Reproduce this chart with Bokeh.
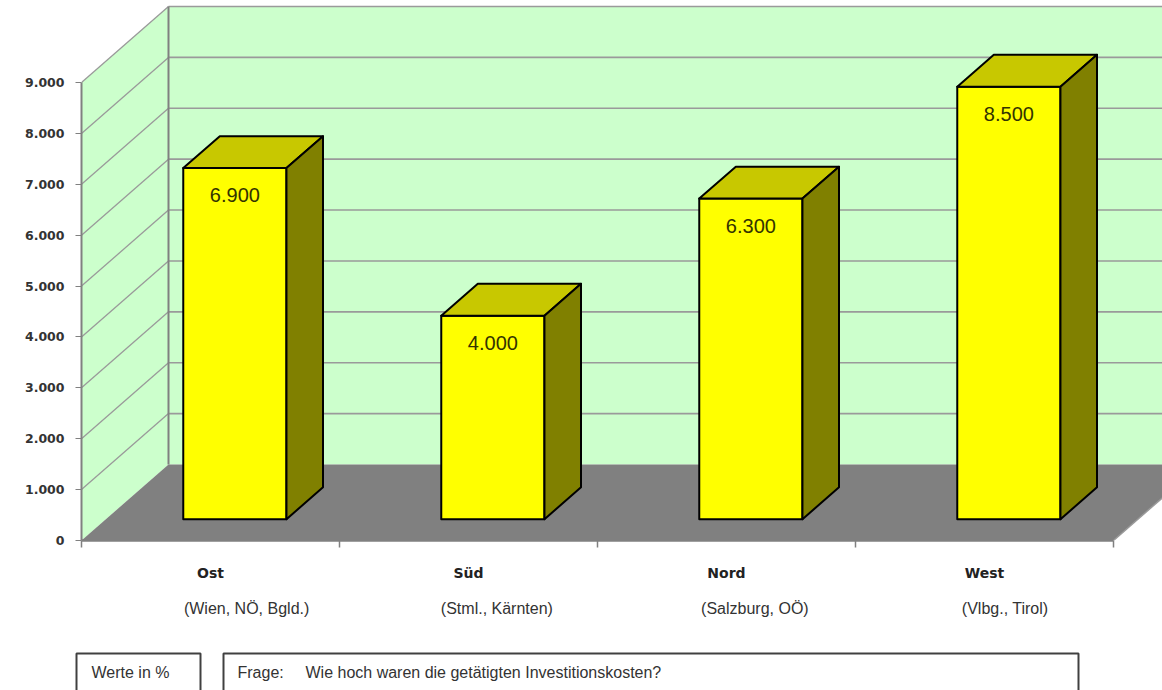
from bokeh.plotting import figure
from bokeh.layouts import column, row
from bokeh.models import FixedTicker, LinearAxis, Range1d
from bokeh.embed import file_html
from bokeh.resources import INLINE
from bokeh.core.properties import value

# ---------------- data ----------------
categories = ["Ost", "Süd", "Nord", "West"]
regions = ["(Wien, NÖ, Bgld.)", "(Stml., Kärnten)", "(Salzburg, OÖ)", "(Vlbg., Tirol)"]
values = [6900, 4000, 6300, 8500]
value_labels = ["6.900", "4.000", "6.300", "8.500"]
y_ticks = [0, 1000, 2000, 3000, 4000, 5000, 6000, 7000, 8000, 9000]
y_tick_labels = ["0", "1.000", "2.000", "3.000", "4.000", "5.000",
                 "6.000", "7.000", "8.000", "9.000"]
unit_note = "Werte in %"
question_head = "Frage:"
question_text = "Wie hoch waren die getätigten Investitionskosten?"

# ---------------- layout constants ----------------
W = 1162
H_MAIN = 650
H_NOTE = 40
PX_LEFT = 81
PX_BOTTOM = 110
PX_PER_CAT = 258.0
PX_PER_UNIT = 458.0 / 9000.0
DEPTH_PX = (87.0, 76.0)
BAR_HALF = 0.2
BAR_D0, BAR_D1 = 0.28, 0.70
SUB_OFFSETS = [0.14, 0.11, 0.11, 0.08]

n = len(categories)
y_max = y_ticks[-1]
x_end = (W - PX_LEFT) / PX_PER_CAT
y_end = (H_MAIN - PX_BOTTOM) / PX_PER_UNIT
DX = DEPTH_PX[0] / PX_PER_CAT
DY = DEPTH_PX[1] / PX_PER_UNIT


def proj(x, v, d):
    return (x + d * DX, v + d * DY)


def poly(pts):
    P = [proj(*q) for q in pts]
    return [a for a, _ in P], [b for _, b in P]


p = figure(width=W, height=H_MAIN, output_backend="svg", toolbar_location=None,
           x_range=Range1d(0, x_end), y_range=Range1d(0, y_end),
           min_border_left=PX_LEFT, min_border_right=0, min_border_top=0,
           min_border_bottom=PX_BOTTOM)
p.outline_line_color = None
p.grid.visible = False
p.background_fill_color = "white"
p.border_fill_color = "white"

WALL = "#CCFFCC"
GRID = "#9a9a9a"
EDGE = "#808080"

# back wall
bx, by = poly([(0, 0, 1), (0, y_max, 1), (n + 0.6, y_max, 1), (n + 0.6, 0, 1)])
p.patch(bx, by, fill_color=WALL, line_color=None)
for v in y_ticks[1:]:
    x0, y0 = proj(0, v, 1)
    x1, y1 = proj(n + 0.6, v, 1)
    p.line([x0, x1], [y0, y1], line_color=GRID, line_width=1.6)

# side wall
sx, sy = poly([(0, 0, 0), (0, y_max, 0), (0, y_max, 1), (0, 0, 1)])
p.patch(sx, sy, fill_color=WALL, line_color=None)
for v in y_ticks[1:]:
    x0, y0 = proj(0, v, 0)
    x1, y1 = proj(0, v, 1)
    p.line([x0, x1], [y0, y1], line_color=GRID, line_width=1.3)

# edges of walls
ex0, ey0 = proj(0, 0, 1)
ex1, ey1 = proj(0, y_max, 1)
p.line([ex0, ex1], [ey0, ey1], line_color=EDGE, line_width=2)

# floor
fx, fy = poly([(0, 0, 0), (n, 0, 0), (n, 0, 1), (0, 0, 1)])
p.patch(fx, fy, fill_color="#808080", line_color=None)
p.line(fx[1:3], fy[1:3], line_color="#9a9a9a", line_width=1.5)

# bars
xs, ys, cols = [], [], []
for i, v in enumerate(values):
    c = i + 0.5
    l, r = c - BAR_HALF, c + BAR_HALF
    for pts, col in (
        ([(l, 0, BAR_D0), (r, 0, BAR_D0), (r, v, BAR_D0), (l, v, BAR_D0)], "#FFFF00"),
        ([(l, v, BAR_D0), (r, v, BAR_D0), (r, v, BAR_D1), (l, v, BAR_D1)], "#C8C800"),
        ([(r, 0, BAR_D0), (r, 0, BAR_D1), (r, v, BAR_D1), (r, v, BAR_D0)], "#808000"),
    ):
        a, b = poly(pts)
        xs.append(a)
        ys.append(b)
        cols.append(col)
p.patches(xs, ys, fill_color=cols, line_color="black", line_width=2, line_join="round")

# value labels on the bar fronts
lx = [proj(i + 0.5, v, BAR_D0)[0] for i, v in enumerate(values)]
ly = [proj(i + 0.5, v, BAR_D0)[1] for i, v in enumerate(values)]
p.text(lx, ly, text=value_labels, text_align="center", text_baseline="middle",
       y_offset=27, text_font=value("Liberation Sans"), text_font_size="20px",
       text_color="#333300")

# y axis
ya = p.yaxis[0]
ya.ticker = FixedTicker(ticks=y_ticks)
ya.bounds = (0, y_max)
ya.major_label_overrides = {t: s for t, s in zip(y_ticks, y_tick_labels)}
ya.major_label_text_font = "DejaVu Sans"
ya.major_label_text_font_style = "bold"
ya.major_label_text_font_size = "12.5px"
ya.major_label_text_color = "#333333"
ya.axis_line_color = EDGE
ya.axis_line_width = 2
ya.major_tick_line_color = EDGE
ya.major_tick_out = 6
ya.major_tick_in = 0
ya.minor_tick_line_color = None
ya.major_label_standoff = 11

# x axis: category names
xa = p.xaxis[0]
centers = [i + 0.5 for i in range(n)]
xa.ticker = FixedTicker(ticks=centers, minor_ticks=list(range(n + 1)))
xa.bounds = (0, n)
xa.major_label_overrides = {c: s for c, s in zip(centers, categories)}
xa.major_label_text_font = "DejaVu Sans"
xa.major_label_text_font_style = "bold"
xa.major_label_text_font_size = "14px"
xa.major_label_text_color = "#222222"
xa.axis_line_color = EDGE
xa.axis_line_width = 2.5
xa.major_tick_line_color = None
xa.major_tick_out = 0
xa.major_tick_in = 0
xa.minor_tick_line_color = EDGE
xa.minor_tick_line_width = 1.5
xa.minor_tick_out = 7
xa.minor_tick_in = 0
xa.major_label_standoff = 17

# second x axis: region names
sub_ticks = [c + o for c, o in zip(centers, SUB_OFFSETS)]
xa2 = LinearAxis(ticker=FixedTicker(ticks=sub_ticks, minor_ticks=[]))
xa2.major_label_overrides = {t: s for t, s in zip(sub_ticks, regions)}
xa2.major_label_text_font = "Liberation Sans"
xa2.major_label_text_font_size = "16px"
xa2.major_label_text_color = "#333333"
xa2.axis_line_color = None
xa2.major_tick_line_color = None
xa2.minor_tick_line_color = None
xa2.major_tick_out = 0
xa2.major_label_standoff = 16
p.add_layout(xa2, "below")

# ---------------- note row ----------------
q = figure(width=W, height=H_NOTE, output_backend="svg", toolbar_location=None,
           x_range=Range1d(0, W), y_range=Range1d(0, H_NOTE),
           x_axis_type=None, y_axis_type=None,
           min_border_left=0, min_border_right=0, min_border_top=0,
           min_border_bottom=0)
q.outline_line_color = None
q.grid.visible = False
q.quad(left=[76, 223], right=[200, 1078], top=[37, 37], bottom=[-6, -6],
       fill_color="white", line_color="#404040", line_width=2)
q.text([91, 237, 305], [18, 18, 18], text=[unit_note, question_head, question_text],
       text_align="left", text_baseline="middle",
       text_font=value("Liberation Sans"), text_font_size="16px", text_color="#333333")

layout = column(p, row(q, spacing=0), spacing=0)
open("out.html", "w").write(file_html(layout, INLINE))
